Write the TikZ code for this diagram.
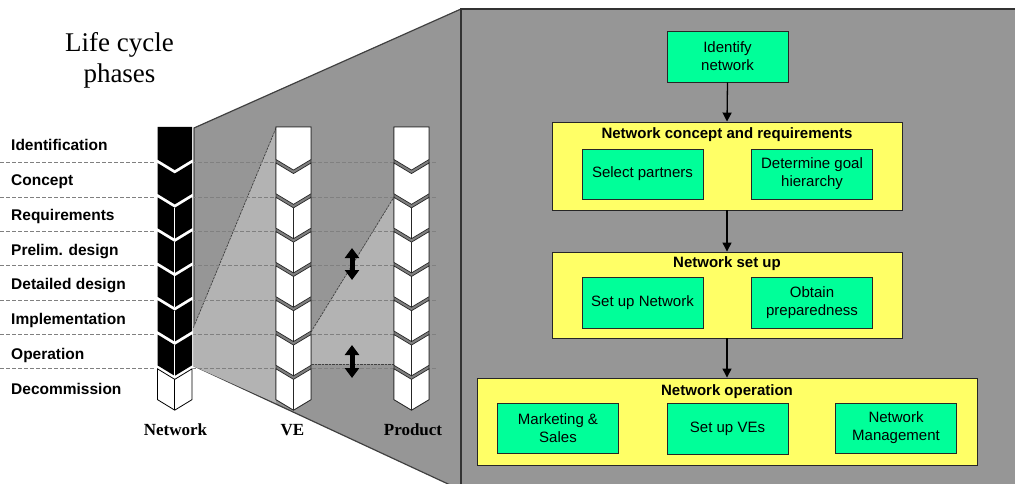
\documentclass[tikz,border=0pt]{standalone}
\usepackage{fontspec}
\setmainfont{Liberation Serif}
\newfontfamily\arialf{Liberation Sans}
\usetikzlibrary{arrows.meta}
\definecolor{panelgray}{HTML}{969696}
\definecolor{lightgray2}{HTML}{B3B3B3}
\definecolor{boxgreen}{HTML}{00FF99}
\definecolor{boxyellow}{HTML}{FFFF66}
\definecolor{bandgray}{HTML}{808080}
\tikzset{
 greenbox/.style={draw=black!85, line width=0.9pt, fill=boxgreen, minimum width=121pt, minimum height=50pt, inner sep=0pt, align=center, font=\arialf\fontsize{15}{18}\selectfont},
 yellowbox/.style={draw=black!85, line width=0.9pt, fill=boxyellow, inner sep=0pt},
 boxtitle/.style={font=\arialf\bfseries\fontsize{15}{18}\selectfont, inner sep=0pt},
 flowarrow/.style={-{Triangle[length=9pt,width=9pt]}, line width=1.3pt, black},
 phaselabel/.style={anchor=base west, inner sep=0pt, font=\arialf\bfseries\fontsize{15.5}{18}\selectfont},
 collabel/.style={anchor=base, inner sep=0pt, font=\bfseries\fontsize{17}{20}\selectfont},
 phaseline/.style={gray, dash pattern=on 3.5pt off 2.5pt, line width=0.8pt},
 linkedge/.style={black!75, dash pattern=on 2.5pt off 1pt, line width=0.7pt},
 dblarrow/.style={{Triangle[length=10pt,width=14pt]}-{Triangle[length=10pt,width=14pt]}, line width=5pt, black},
}
\newcommand\lcseg[5]{%
  \pgfmathsetmacro\segA{#5==0 ? 127 : 127+34.3*#5+1.75}%
  \pgfmathsetmacro\segB{#5==0 ? 127 : \segA+10.5}%
  \pgfmathsetmacro\segC{127+34.3*(#5+1)-1.75}%
  \pgfmathsetmacro\segD{\segC+10.5}%
  \path[#1] (#2,\segA) -- (#3,\segB) -- (#4,\segA) -- (#4,\segC) -- (#3,\segD) -- (#2,\segC) -- cycle;
}
\newcommand\lcmid[3]{%
  \pgfmathsetmacro\segA{127+34.3*#3+1.75}%
  \pgfmathsetmacro\segB{\segA+10.5}%
  \pgfmathsetmacro\segC{127+34.3*(#3+1)-1.75}%
  \pgfmathsetmacro\segD{\segC+10.5}%
  \draw[#1] (#2,\segB) -- (#2,\segD);
}
\begin{document}
\begin{tikzpicture}[x=1pt,y=-1pt]
\useasboundingbox (0,0) rectangle (1015,484);
\fill[white] (0,0) rectangle (1015,484);
% trapezoid
\draw[fill=panelgray, draw=black!75, line width=1.2pt] (194,128) -- (461,9) -- (461,490) -- (194,366) -- cycle;
% right panel
\draw[fill=panelgray, draw=black!80, line width=2pt] (461,9) rectangle (1030,500);
% light linking regions
\fill[lightgray2] (192,331) -- (276,128) -- (276,403) -- (193,366) -- cycle;
\draw[linkedge] (192,331) -- (276,128);
\fill[lightgray2] (311,332) -- (394,197) -- (394,364) -- (311,364) -- cycle;
\draw[linkedge] (311,332) -- (394,197);
\draw[linkedge] (311,364) -- (394,364);
% phase lines
\foreach \k in {1,...,7}{
  \pgfmathsetmacro\yy{127+34.3*\k+1.5}
  \draw[phaseline] (0,\yy) -- (437,\yy);
}
% Network column
\fill[white] (156,126) -- (193,126) -- (193,400) -- (174.75,411) -- (156,400) -- cycle;
\foreach \i in {0,...,6}{ \lcseg{fill=black}{157.5}{174.75}{192}{\i} }
\lcseg{fill=white, draw=black, line width=0.8pt}{157.5}{174.75}{192}{7}
\foreach \i in {2,...,6}{ \lcmid{white, line width=0.7pt}{174.75}{\i} }
\lcmid{black, line width=0.8pt}{174.75}{7}
% VE and Product columns
\foreach \xl/\xc/\xr in {276/293.5/311, 394/411.5/429}{
  \draw[fill=bandgray, draw=black!85, line width=0.7pt] (\xl,127) -- (\xr,127) -- (\xr,399.65) -- (\xc,410.15) -- (\xl,399.65) -- cycle;
  \foreach \i in {0,...,7}{ \lcseg{fill=white, draw=black!85, line width=0.7pt}{\xl}{\xc}{\xr}{\i} }
  \foreach \i in {2,...,7}{ \lcmid{black!85, line width=0.7pt}{\xc}{\i} }
}
% double arrows
\coordinate (da1t) at (352,248);
\coordinate (da1b) at (352,280);
\coordinate (da2t) at (352,345);
\coordinate (da2b) at (352,378);
\draw[dblarrow] (da1t) -- (da1b);
\draw[dblarrow] (da2t) -- (da2b);
% left texts
\node[align=center, inner sep=0pt, font=\fontsize{27}{31}\selectfont] (lcp) at (119.5,60) {Life cycle\\phases};
\node[phaselabel] (p1) at (11,150.7) {Identification};
\node[phaselabel] (p2) at (11,185.5) {Concept};
\node[phaselabel] (p3) at (11,220.2) {Requirements};
\node[phaselabel] (p4) at (11,255) {Prelim. design};
\node[phaselabel] (p5) at (11,289.7) {Detailed design};
\node[phaselabel] (p6) at (11,324.5) {Implementation};
\node[phaselabel] (p7) at (11,359.2) {Operation};
\node[phaselabel] (p8) at (11,394) {Decommission};
\node[collabel] (cn) at (175.5,435) {Network};
\node[collabel] (cv) at (292.5,435) {VE};
\node[collabel] (cp) at (413,435) {Product};
% right flow
\node[greenbox, minimum height=51pt] (idn) at (727.5,56.5) {Identify\\network};
\node[yellowbox, minimum width=350pt, minimum height=88pt] (y1) at (727,166) {};
\node[boxtitle] (t1) at (727,135) {Network concept and requirements};
\node[greenbox] (sp) at (642.5,174) {Select partners};
\node[greenbox] (dg) at (812,174) {Determine goal\\hierarchy};
\node[yellowbox, minimum width=350pt, minimum height=86pt] (y2) at (727,295) {};
\node[boxtitle] (t2) at (727,264) {Network set up};
\node[greenbox, minimum height=51pt] (sn) at (642.5,302.5) {Set up Network};
\node[greenbox, minimum height=51pt] (op) at (812,302.5) {Obtain\\preparedness};
\node[yellowbox, minimum width=500pt, minimum height=87pt] (y3) at (727,421.5) {};
\node[boxtitle] (t3) at (727,392) {Network operation};
\node[greenbox] (ms) at (558,428) {Marketing \&\\Sales};
\node[greenbox, minimum height=51pt] (sv) at (727.5,428.5) {Set up VEs};
\node[greenbox] (nm) at (896,428) {Network\\Management};
\draw[flowarrow] (idn.south) -- (y1.north);
\draw[flowarrow] (y1.south) -- (y2.north);
\draw[flowarrow] (y2.south) -- (y3.north);
\end{tikzpicture}
\end{document}
